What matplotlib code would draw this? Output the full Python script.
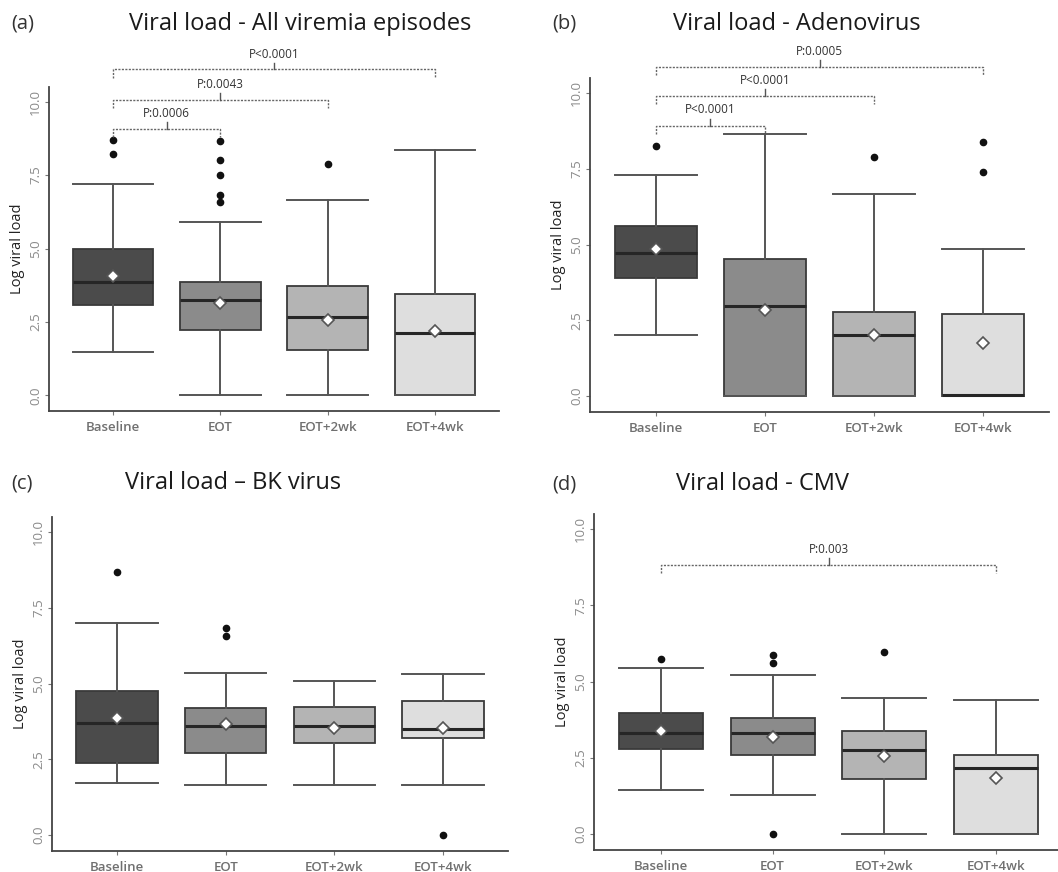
import matplotlib
matplotlib.use("Agg")
import matplotlib.pyplot as plt

categories = ["Baseline", "EOT", "EOT+2wk", "EOT+4wk"]
fills = ["#4b4b4b", "#8b8b8b", "#b4b4b4", "#dedede"]

# Panel (a) - All viremia episodes
a_whislo = [1.47, 0.0, 0.0, 0.0]
a_q1 = [3.09, 2.24, 1.53, 0.0]
a_med = [3.85, 3.26, 2.68, 2.14]
a_q3 = [4.97, 3.87, 3.73, 3.45]
a_whishi = [7.20, 5.89, 6.67, 8.37]
a_mean = [4.07, 3.14, 2.57, 2.21]
a_fliers = [[8.69, 8.22], [8.65, 8.03, 7.51, 6.83, 6.57], [7.88], []]

# Panel (b) - Adenovirus
b_whislo = [2.01, 0.0, 0.0, 0.0]
b_q1 = [3.90, 0.0, 0.0, 0.0]
b_med = [4.73, 2.98, 2.02, 0.02]
b_q3 = [5.61, 4.51, 2.77, 2.72]
b_whishi = [7.30, 8.65, 6.67, 4.84]
b_mean = [4.84, 2.85, 2.00, 1.75]
b_fliers = [[8.25], [], [7.90], [8.38, 7.41]]

# Panel (c) - BK virus
c_whislo = [1.72, 1.66, 1.66, 1.66]
c_q1 = [2.38, 2.70, 3.03, 3.21]
c_med = [3.70, 3.59, 3.59, 3.51]
c_q3 = [4.75, 4.18, 4.21, 4.44]
c_whishi = [7.01, 5.35, 5.08, 5.31]
c_mean = [3.87, 3.66, 3.54, 3.54]
c_fliers = [[8.68], [6.85, 6.56], [], [0.0]]

# Panel (d) - CMV
d_whislo = [1.45, 1.29, 0.0, 0.0]
d_q1 = [2.77, 2.60, 1.81, 0.0]
d_med = [3.32, 3.32, 2.76, 2.15]
d_q3 = [3.98, 3.80, 3.37, 2.58]
d_whishi = [5.45, 5.20, 4.45, 4.41]
d_mean = [3.38, 3.18, 2.55, 1.84]
d_fliers = [[5.73], [5.87, 5.61, 0.0], [5.96], []]

# comparisons: (i, j, label, level)
a_comps = [(0, 1, "P:0.0006", 9.08), (0, 2, "P:0.0043", 10.07), (0, 3, "P<0.0001", 11.1)]
b_comps = [(0, 1, "P<0.0001", 8.93), (0, 2, "P<0.0001", 9.91), (0, 3, "P:0.0005", 10.87)]
c_comps = []
d_comps = [(0, 3, "P:0.003", 8.83)]

titles = ["Viral load - All viremia episodes", "Viral load - Adenovirus",
          "Viral load \u2013 BK virus", "Viral load - CMV"]
letters = ["(a)", "(b)", "(c)", "(d)"]

W, H = 1058, 872
fig = plt.figure(figsize=(W / 100, H / 100), dpi=100)

def px_axes(left, top, right, bottom):
    return fig.add_axes([left / W, 1 - bottom / H, (right - left) / W, (bottom - top) / H])

axes_px = [(49, 87, 499, 411), (590, 78, 1049, 412), (52, 517, 508, 851), (594, 514, 1063, 850)]
title_px = [(300, 24), (797, 24), (233, 483), (763, 484)]
letter_px = [(11, 24), (552, 24), (11, 483), (552, 484)]

panels = [
    (a_whislo, a_q1, a_med, a_q3, a_whishi, a_mean, a_fliers, a_comps),
    (b_whislo, b_q1, b_med, b_q3, b_whishi, b_mean, b_fliers, b_comps),
    (c_whislo, c_q1, c_med, c_q3, c_whishi, c_mean, c_fliers, c_comps),
    (d_whislo, d_q1, d_med, d_q3, d_whishi, d_mean, d_fliers, d_comps),
]

font = "Open Sans"
for k, (wlo, q1, med, q3, whi, mean, fl, comps) in enumerate(panels):
    ax = px_axes(*axes_px[k])
    stats = []
    for i in range(4):
        stats.append(dict(whislo=wlo[i], q1=q1[i], med=med[i], q3=q3[i], whishi=whi[i],
                          mean=mean[i], fliers=fl[i], label=categories[i]))
    pos = [1, 2, 3, 4]
    bp = ax.bxp(stats, positions=pos, widths=0.75, capwidths=0.75, patch_artist=True,
                showmeans=True, showfliers=True,
                boxprops=dict(edgecolor="#3a3a3a", linewidth=1.3),
                medianprops=dict(color="#262626", linewidth=2.2),
                whiskerprops=dict(color="#555555", linewidth=1.4),
                capprops=dict(color="#555555", linewidth=1.4),
                meanprops=dict(marker="D", markerfacecolor="white", markeredgecolor="#555555",
                               markersize=6, markeredgewidth=1.2),
                flierprops=dict(marker="o", markerfacecolor="#111111", markeredgecolor="#111111",
                                markersize=4.5))
    for patch, c in zip(bp["boxes"], fills):
        patch.set_facecolor(c)
    ax.set_xlim(0.4, 4.6)
    ax.set_ylim(-0.53, 10.5)
    ax.set_yticks([0, 2.5, 5, 7.5, 10])
    ax.set_yticklabels(["0.0", "2.5", "5.0", "7.5", "10.0"], rotation=90, va="center",
                       color="#8a8a8a", fontsize=9.5, family=font)
    ax.set_xticks(pos)
    ax.set_xticklabels(categories, color="#707070", fontsize=9.5, family=font,
                       fontweight="semibold")
    ax.tick_params(axis="both", length=3, color="#777777", width=0.8)
    ax.tick_params(axis="y", pad=2)
    ax.tick_params(axis="x", pad=4)
    for s in ["top", "right"]:
        ax.spines[s].set_visible(False)
    for s in ["left", "bottom"]:
        ax.spines[s].set_color("#444444")
        ax.spines[s].set_linewidth(1.3)
    ax.set_ylabel("Log viral load", fontsize=10.5, family=font, color="#222222", labelpad=3)
    for (i, j, lab, lvl) in comps:
        x1, x2 = pos[i], pos[j]
        ax.plot([x1, x1, x2, x2], [lvl - 0.28, lvl, lvl, lvl - 0.28], ls=(0, (1.5, 1)),
                color="#666666", lw=1.0, clip_on=False)
        xm = (x1 + x2) / 2
        ax.plot([xm, xm], [lvl, lvl + 0.22], color="#555555", lw=1.0, clip_on=False)
        ax.text(xm, lvl + 0.3, lab, ha="center", va="bottom", fontsize=8.5, family=font,
                color="#333333", clip_on=False)
    fig.text(title_px[k][0] / W, 1 - title_px[k][1] / H, titles[k], ha="center", va="center",
             fontsize=17, family=font, color="#1a1a1a")
    fig.text(letter_px[k][0] / W, 1 - letter_px[k][1] / H, letters[k], ha="left", va="center",
             fontsize=14.5, family=font, color="#333333")

fig.savefig("out.png", dpi=100)
